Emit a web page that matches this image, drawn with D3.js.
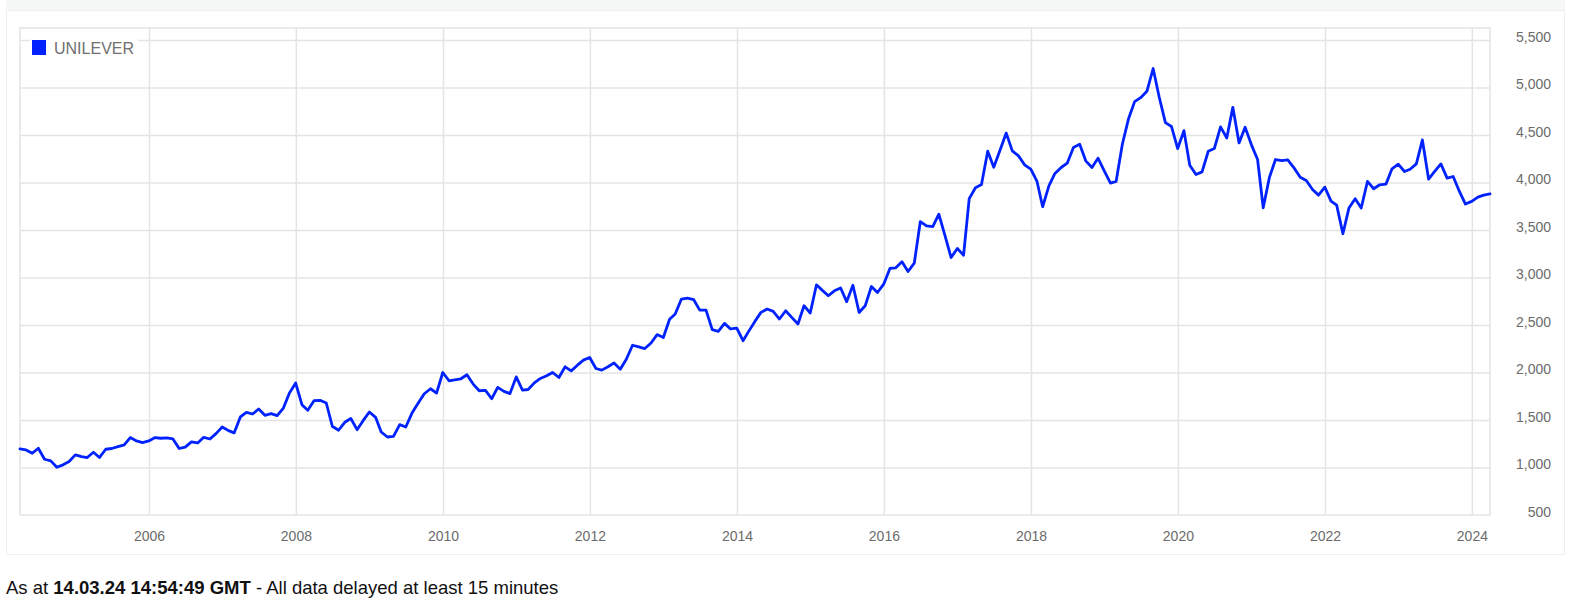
<!DOCTYPE html>
<html>
<head>
<meta charset="utf-8">
<script src="https://cdn.jsdelivr.net/npm/d3@7"></script>
<style>
  html, body { margin: 0; padding: 0; background: #ffffff; }
  svg { display: block; font-family: "Liberation Sans", Arial, Helvetica, sans-serif; }
</style>
</head>
<body>
<svg id="chart" width="1583" height="607"></svg>
<script>
// ---- data (monthly closing prices, GBp) ----
const seriesName = "UNILEVER";
const firstMonth = "2004-03";          // month-end points start here
const p2004 = [1195,1185,1150,1203,1087,1070,1003,1028,1063,1133];          // Mar-Dec
const p2005 = [1115,1105,1161,1105,1192,1200,1220,1238,1315,1280,1262,1280];
const p2006 = [1315,1308,1311,1301,1200,1215,1269,1258,1318,1300,1357,1427];
const p2007 = [1388,1364,1532,1581,1563,1616,1549,1567,1546,1626,1784,1889];
const p2008 = [1661,1602,1703,1707,1679,1434,1392,1476,1516,1398,1493,1584];
const p2009 = [1528,1374,1321,1328,1451,1426,1573,1678,1776,1829,1783,2000];
const p2010 = [1913,1923,1934,1976,1878,1808,1811,1724,1843,1801,1778,1954];
const p2011 = [1814,1821,1891,1937,1965,2000,1947,2060,2017,2077,2130,2158];
const p2012 = [2042,2025,2060,2101,2035,2140,2287,2270,2252,2311,2399,2368];
const p2013 = [2560,2615,2773,2783,2766,2657,2657,2451,2433,2517,2458,2468];
const p2014 = [2335,2433,2538,2633,2668,2643,2563,2650,2580,2510,2703,2626];
const p2015 = [2923,2867,2808,2860,2890,2746,2919,2632,2702,2905,2842,2930];
const p2016 = [3095,3102,3165,3063,3151,3589,3543,3536,3666,3438,3210,3305];
const p2017 = [3235,3830,3945,3980,4330,4160,4340,4520,4333,4280,4186,4140];
const p2018 = [4011,3745,3965,4095,4158,4203,4368,4403,4228,4158,4256,4123];
const p2019 = [3993,4011,4403,4665,4851,4893,4960,5200,4900,4630,4590,4357];
const p2020 = [4546,4182,4084,4112,4329,4357,4585,4469,4791,4417,4581,4399];
const p2021 = [4242,3734,4056,4242,4231,4238,4154,4056,4021,3927,3867,3951];
const p2022 = [3804,3762,3461,3731,3829,3731,4011,3934,3976,3983,4144,4193];
const p2023 = [4116,4140,4196,4448,4035,4116,4196,4046,4063,3906,3773,3801];
const p2024 = [3846,3867,3881];                                               // Jan-Mar

const yTicks = [500,1000,1500,2000,2500,3000,3500,4000,4500,5000,5500];
const xTickYears = [2006,2008,2010,2012,2014,2016,2018,2020,2022,2024];
const footerPrefix = "As at ";
const footerStamp = "14.03.24 14:54:49 GMT";
const footerSuffix = " - All data delayed at least 15 minutes";

// ---- build table ----
const values = [].concat(p2004,p2005,p2006,p2007,p2008,p2009,p2010,p2011,p2012,p2013,
  p2014,p2015,p2016,p2017,p2018,p2019,p2020,p2021,p2022,p2023,p2024);
const parseMonth = d3.timeParse("%Y-%m");
const m0 = d3.timeMonth.offset(parseMonth(firstMonth), 1);
const data = values.map((v, i) => ({
  date: d3.timeDay.offset(d3.timeMonth.offset(m0, i), -1),
  value: v
}));

// ---- layout ----
const svg = d3.select("#chart");
const L = 20, R = 1490, T = 28, B = 515;
const lineColor = "#0022ff";
const gridColor = "#e4e4e4";

// card background
svg.append("rect").attr("x", 6).attr("y", 0).attr("width", 1559).attr("height", 10)
  .attr("fill", "#f6f8f8");
svg.append("rect").attr("x", 6.5).attr("y", 10.5).attr("width", 1558).attr("height", 544)
  .attr("fill", "#fff").attr("stroke", "#efefef").attr("stroke-width", 1);

const x = d3.scaleTime().domain(d3.extent(data, d => d.date)).range([L, R]);
const y = d3.scaleLinear().domain([500, 5500]).range([B, 40]);

// horizontal grid
svg.append("g")
  .attr("transform", `translate(${R},0)`)
  .call(d3.axisLeft(y).tickValues(yTicks.slice(1)).tickSize(R - L).tickFormat(""))
  .call(g => g.select(".domain").remove())
  .call(g => g.selectAll("line").attr("stroke", gridColor).attr("stroke-width", 1.5));

// vertical grid
const xTickDates = xTickYears.map(yr => new Date(yr, 0, 1));
svg.append("g")
  .attr("transform", `translate(0,${B})`)
  .call(d3.axisBottom(x).tickValues(xTickDates).tickSize(-(B - T)).tickFormat(""))
  .call(g => g.select(".domain").remove())
  .call(g => g.selectAll("line").attr("stroke", gridColor).attr("stroke-width", 1.5));

// plot border
svg.append("rect").attr("x", L).attr("y", T).attr("width", R - L).attr("height", B - T)
  .attr("fill", "none").attr("stroke", gridColor).attr("stroke-width", 1.5);

// y labels (right side)
svg.append("g")
  .attr("transform", `translate(1554,0)`)
  .call(d3.axisLeft(y).tickValues(yTicks).tickSize(0).tickPadding(3).tickFormat(d3.format(",")))
  .call(g => g.select(".domain").remove())
  .call(g => g.selectAll("text").attr("y", -3).attr("fill", "#6b6b6b")
    .attr("font-size", 14).attr("font-family", "'Liberation Sans', Arial, sans-serif"));

// x labels
svg.append("g")
  .attr("transform", `translate(0,${B})`)
  .call(d3.axisBottom(x).tickValues(xTickDates).tickSize(0).tickPadding(16).tickFormat(d3.timeFormat("%Y")))
  .call(g => g.select(".domain").remove())
  .call(g => g.selectAll("text").attr("fill", "#6b6b6b")
    .attr("font-size", 14).attr("font-family", "'Liberation Sans', Arial, sans-serif"));

// line
const line = d3.line().x(d => x(d.date)).y(d => y(d.value));
svg.append("path").datum(data)
  .attr("d", line)
  .attr("fill", "none")
  .attr("stroke", lineColor)
  .attr("stroke-width", 2.8)
  .attr("stroke-linejoin", "round")
  .attr("stroke-linecap", "round");

// legend
const lg = svg.append("g");
lg.append("rect").attr("x", 30).attr("y", 36).attr("width", 108).attr("height", 22).attr("fill", "#fff");
lg.append("rect").attr("x", 32).attr("y", 40).attr("width", 14).attr("height", 15).attr("fill", lineColor);
lg.append("text").attr("x", 54).attr("y", 53.5).attr("font-size", 16).attr("fill", "#707070")
  .text(seriesName);

// footer
const ft = svg.append("text").attr("x", 6).attr("y", 593.5).attr("font-size", 18.5).attr("fill", "#111");
ft.append("tspan").text(footerPrefix);
ft.append("tspan").attr("font-weight", "bold").text(footerStamp);
ft.append("tspan").text(footerSuffix);
</script>
</body>
</html>
